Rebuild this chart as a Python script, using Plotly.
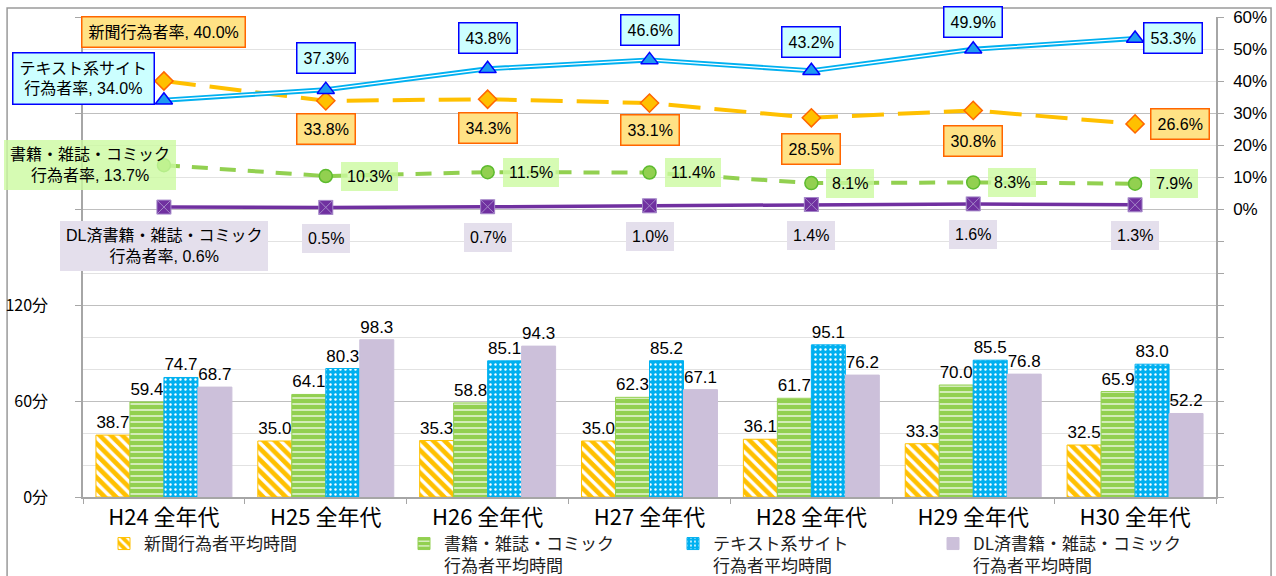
import plotly.graph_objects as go

# 調査年
years = ["H24 全年代", "H25 全年代", "H26 全年代", "H27 全年代",
         "H28 全年代", "H29 全年代", "H30 全年代"]

# 行為者率（%）
rate_news = [40.0, 33.8, 34.3, 33.1, 28.5, 30.8, 26.6]
rate_text = [34.0, 37.3, 43.8, 46.6, 43.2, 49.9, 53.3]
rate_books = [13.7, 10.3, 11.5, 11.4, 8.1, 8.3, 7.9]
rate_dl = [0.6, 0.5, 0.7, 1.0, 1.4, 1.6, 1.3]

# 行為者平均時間（分）
time_news = [38.7, 35.0, 35.3, 35.0, 36.1, 33.3, 32.5]
time_books = [59.4, 64.1, 58.8, 62.3, 61.7, 70.0, 65.9]
time_text = [74.7, 80.3, 85.1, 85.2, 95.1, 85.5, 83.0]
time_dl = [68.7, 98.3, 94.3, 67.1, 76.2, 76.8, 52.2]

# 軸目盛
time_ticks = [0, 60, 120, 180, 240, 300]
time_ticktext = ["0分", "60分", "120分", "", "", ""]
rate_ticks = list(range(-90, 61, 10))
rate_ticktext = [f"{v}%" if v >= 0 else "" for v in rate_ticks]

NUM_FONT = "Liberation Sans, Arial, Noto Sans CJK JP"
JP_FONT = "Noto Sans CJK JP, Liberation Sans"
AXIS_GRAY = "#A6A6A6"

fig = go.Figure()

# ---- 棒グラフ（平均時間） ----
bar_specs = [
    ("新聞行為者平均時間", time_news, "#FFC000", dict(shape="\\", size=8, solidity=0.42), "legend"),
    ("書籍・雑誌・コミック<br>行為者平均時間", time_books, "#92D050", dict(shape="-", size=6, solidity=0.2), "legend2"),
    ("テキスト系サイト<br>行為者平均時間", time_text, "#00B0F0", dict(shape=".", size=5, solidity=0.18), "legend3"),
    ("DL済書籍・雑誌・コミック<br>行為者平均時間", time_dl, "#CCC0DA", None, "legend4"),
]
for name, vals, color, pat, lg in bar_specs:
    marker = dict(color=color, line=dict(color=color, width=1))
    if pat:
        marker["pattern"] = dict(fgcolor="white", bgcolor=color, fillmode="replace", **pat)
    fig.add_trace(go.Bar(
        x=years, y=vals, name=name, marker=marker,
        text=[f"{v:.1f}" for v in vals], textposition="outside",
        constraintext="none", cliponaxis=False,
        textfont=dict(family=NUM_FONT, size=17, color="#000"),
        legend=lg, yaxis="y",
    ))

# ---- 折れ線（行為者率） ----
fig.add_trace(go.Scatter(
    x=years, y=rate_news, yaxis="y2", mode="lines+markers", showlegend=False,
    line=dict(color="#FFC000", width=4, dash="32px,14px"),
    marker=dict(symbol="diamond", size=14, color="#FFC000",
                line=dict(color="#FF6600", width=1.5)),
))
fig.add_trace(go.Scatter(
    x=years, y=rate_books, yaxis="y2", mode="lines+markers", showlegend=False,
    line=dict(color="#92D050", width=4, dash="16px,12px"),
    marker=dict(symbol="circle", size=13, color="#92D050",
                line=dict(color="#5DBB2E", width=1.5)),
))
fig.add_trace(go.Scatter(
    x=years, y=rate_dl, yaxis="y2", mode="lines+markers", showlegend=False,
    line=dict(color="#7030A0", width=3.5),
    marker=dict(symbol="square-x", size=14, color="#7030A0",
                line=dict(color="#A487C8", width=1)),
))
# テキスト系サイトは二重線
fig.add_trace(go.Scatter(
    x=years, y=rate_text, yaxis="y2", mode="lines", showlegend=False,
    line=dict(color="#00B0F0", width=5), hoverinfo="skip",
))
fig.add_trace(go.Scatter(
    x=years, y=rate_text, yaxis="y2", mode="lines+markers", showlegend=False,
    line=dict(color="white", width=1.3),
    marker=dict(symbol="triangle-up", size=15, color="#1E9BF0",
                line=dict(color="#0000FF", width=1.5)),
))

# ---- データラベル ----
def add_labels(vals, first_name, bg, border, offsets, size=16):
    for i, (yr, v) in enumerate(zip(years, vals)):
        txt = f"{v:.1f}%" if i else f"{first_name}, {v:.1f}%"
        dx, dy, anchor = offsets[i]
        fig.add_annotation(
            x=yr, y=v, yref="y2", text=txt, showarrow=False,
            xanchor=anchor, yanchor="middle", xshift=dx, yshift=dy,
            bgcolor=bg, bordercolor=border or "rgba(0,0,0,0)",
            borderwidth=1.5 if border else 0, borderpad=6, align="center",
            font=dict(family=NUM_FONT, size=size, color="#000"),
        )

add_labels(rate_text, "テキスト系サイト<br>行為者率", "#CCFFFF", "#0000FF",
           [(-80, 22, "center"), (0, 32, "center"), (0, 31, "center"), (0, 30, "center"),
            (0, 29, "center"), (0, 27, "center"), (8, 0, "left")])
add_labels(rate_news, "新聞行為者率", "#FFE285", "#FF6600",
           [(0, 49, "center"), (0, -28, "center"), (0, -29, "center"), (0, -27, "center"),
            (0, -31, "center"), (0, -31, "center"), (15, 0, "left")])
add_labels(rate_books, "書籍・雑誌・コミック<br>行為者率", "rgba(204,250,160,0.8)", None,
           [(-74, 0, "center")] + [(15, 0, "left")] * 6)
add_labels(rate_dl, "DL済書籍・雑誌・コミック<br>行為者率", "#E4DFEC", None,
           [(0, -39, "center")] + [(0, -31, "center")] * 6)

# 外枠
fig.add_shape(type="rect", xref="paper", yref="paper",
              x0=-0.067, x1=1.0486, y0=-0.25, y1=1.019,
              line=dict(color="#9A9A9A", width=1.5), layer="below")

legend_common = dict(orientation="h", yanchor="top", xanchor="left",
                     xref="container", yref="container", y=(576 - 526) / 576,
                     bgcolor="rgba(0,0,0,0)", valign="top", itemwidth=30,
                     font=dict(family=JP_FONT, size=17, color="#222"))

fig.update_layout(
    width=1276, height=576,
    margin=dict(l=83, r=60, t=17, b=79, autoexpand=False),
    paper_bgcolor="white", plot_bgcolor="white",
    barmode="group", bargap=0.16, bargroupgap=0,
    xaxis=dict(type="category", tickson="boundaries", ticks="outside", ticklen=5,
               tickcolor=AXIS_GRAY, showline=True, linecolor=AXIS_GRAY, linewidth=1.5,
               showgrid=False, range=[-0.5, 6.5], automargin=False,
               tickfont=dict(family=JP_FONT, size=22, color="#000")),
    yaxis=dict(range=[0, 300], tickmode="array", tickvals=time_ticks, ticktext=time_ticktext,
               ticks="outside", ticklen=6, tickcolor=AXIS_GRAY, ticklabelstandoff=24,
               showline=True, linecolor=AXIS_GRAY, linewidth=1.5, automargin=False,
               showgrid=True, gridcolor="#BFBFBF", gridwidth=1, zeroline=False,
               minor=dict(tickmode="linear", tick0=0, dtick=20, showgrid=True,
                          gridcolor="#E2E2E2", ticks=""),
               tickfont=dict(family=JP_FONT, size=16, color="#000")),
    yaxis2=dict(overlaying="y", side="right", range=[-90, 60], tickmode="array",
                tickvals=rate_ticks, ticktext=rate_ticktext, ticks="outside", ticklen=6,
                tickcolor=AXIS_GRAY, ticklabelstandoff=6, showline=True, automargin=False,
                linecolor=AXIS_GRAY, linewidth=1.5, showgrid=False, zeroline=False,
                tickfont=dict(family=NUM_FONT, size=17, color="#000")),
    legend=dict(x=104 / 1276, **legend_common),
    legend2=dict(x=404 / 1276, **legend_common),
    legend3=dict(x=673 / 1276, **legend_common),
    legend4=dict(x=933 / 1276, **legend_common),
)

fig.write_html("out.html")
